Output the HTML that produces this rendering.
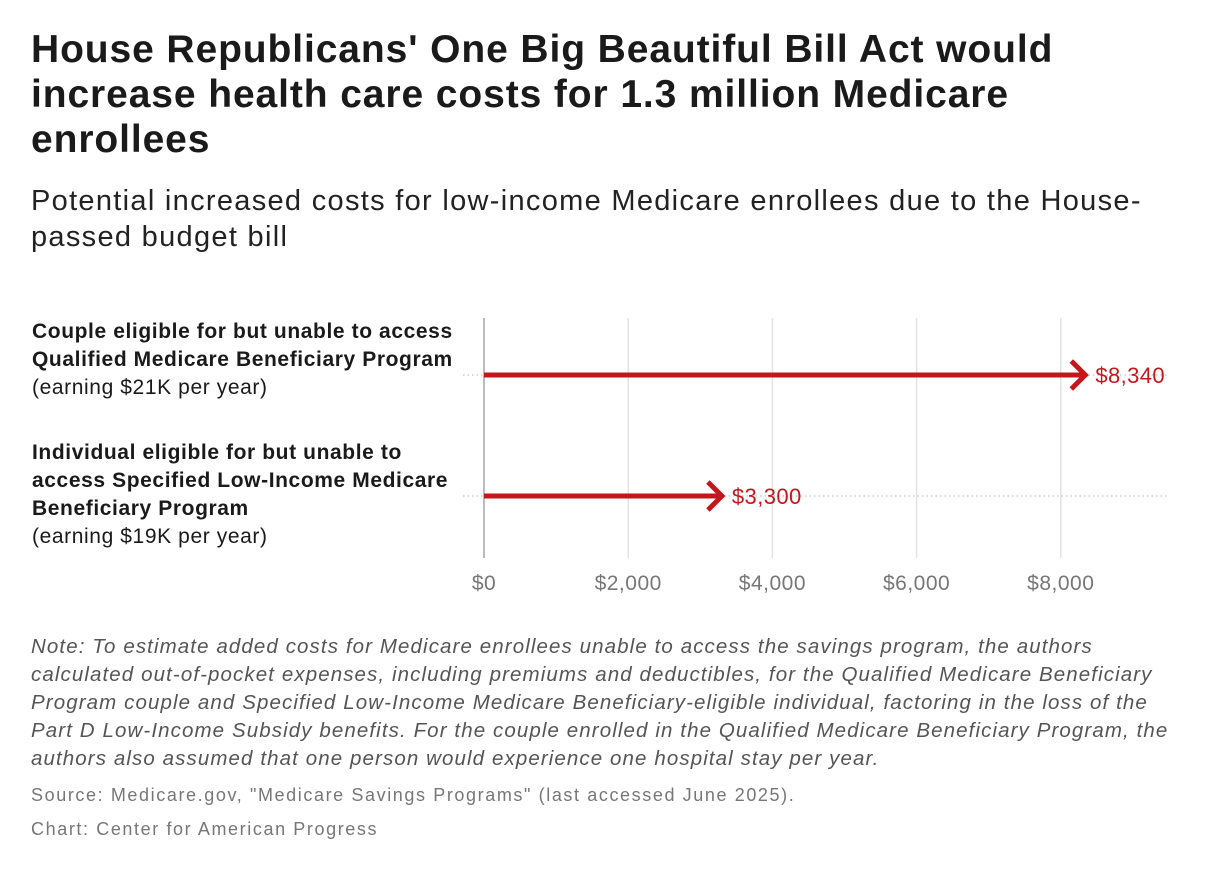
<!DOCTYPE html>
<html><head><meta charset="utf-8"><style>
body{margin:0;width:1220px;height:874px;background:#fff;font-family:"Liberation Sans",sans-serif;overflow:hidden;position:relative}
.t{position:absolute;white-space:nowrap}
</style></head><body>
<div class="t" style="left:31px;top:27px;font-size:39px;font-weight:bold;line-height:45px;color:#1a1a1a;letter-spacing:0.9px">House Republicans' One Big Beautiful Bill Act would<br>increase health care costs for 1.3 million Medicare<br>enrollees</div>
<div class="t" style="left:31px;top:183px;font-size:29px;line-height:36px;color:#222;letter-spacing:1.3px">Potential increased costs for low-income Medicare enrollees due to the House-<br>passed budget bill</div>
<div class="t" style="left:32px;top:318px;font-size:21px;line-height:28px;color:#1a1a1a;letter-spacing:0.6px"><b>Couple eligible for but unable to access<br>Qualified Medicare Beneficiary Program</b><br>(earning $21K per year)</div>
<div class="t" style="left:32px;top:439px;font-size:21px;line-height:28px;color:#1a1a1a;letter-spacing:0.6px"><b>Individual eligible for but unable to<br>access Specified Low-Income Medicare<br>Beneficiary Program</b><br>(earning $19K per year)</div>
<svg id="chart" width="1220" height="874" style="position:absolute;left:0;top:0"></svg>
<div class="t" style="left:31px;top:633px;font-size:20.5px;line-height:28px;font-style:italic;color:#555;letter-spacing:1.1px">Note: To estimate added costs for Medicare enrollees unable to access the savings program, the authors<br>calculated out-of-pocket expenses, including premiums and deductibles, for the Qualified Medicare Beneficiary<br>Program couple and Specified Low-Income Medicare Beneficiary-eligible individual, factoring in the loss of the<br>Part D Low-Income Subsidy benefits. For the couple enrolled in the Qualified Medicare Beneficiary Program, the<br>authors also assumed that one person would experience one hospital stay per year.</div>
<div class="t" style="left:31px;top:785px;font-size:18px;color:#777;letter-spacing:1.6px">Source: Medicare.gov, "Medicare Savings Programs" (last accessed June 2025).</div>
<div class="t" style="left:31px;top:819px;font-size:18px;color:#777;letter-spacing:1.6px">Chart: Center for American Progress</div>
<script>
const categories=["couple","individual"];
const values=[8340,3300];
const valueLabels=["$8,340","$3,300"];
const ticks=[0,2000,4000,6000,8000];
const tickLabels=["$0","$2,000","$4,000","$6,000","$8,000"];
const ns="http://www.w3.org/2000/svg";
const svg=document.getElementById('chart');
const x=v=>484+v*0.0721;
const rowY=[375,496];
function mk(t,a){const e=document.createElementNS(ns,t);for(const k in a)e.setAttribute(k,a[k]);svg.appendChild(e);return e;}
ticks.forEach((t,i)=>{
 const g=mk('line',{x1:x(t),x2:x(t),y1:318,y2:558,stroke:t===0?'#bbb':'#e3e3e3','stroke-width':t===0?2:1.5});
 
 
 const l=mk('text',{x:x(t),y:590,'text-anchor':'middle','font-size':21,'letter-spacing':0.5,fill:'#777','font-family':'Liberation Sans, sans-serif'});
 l.textContent=tickLabels[i];
 
 
});
categories.forEach((c,i)=>{
 const y=rowY[i];
 const d=mk('line',{x1:463,x2:1168,y1:y,y2:y,stroke:'#ccc','stroke-width':1.5,'stroke-dasharray':'1.5 3'});
 
 
 const xe=x(values[i]);
 const ln=mk('line',{x1:484,x2:xe-3,y1:y,y2:y,stroke:'#c4171c','stroke-width':5});
 
 
 const h=mk('polyline',{points:`${xe-14},${y-14} ${xe},${y} ${xe-14},${y+14}`,fill:'none',stroke:'#c4171c','stroke-width':5});
 
 
 const t=mk('text',{x:xe+10,y:y+8,'font-size':22,'letter-spacing':0.4,fill:'#c4171c','font-family':'Liberation Sans, sans-serif'});
 t.textContent=valueLabels[i];
 
 
});
</script>
</body></html>
